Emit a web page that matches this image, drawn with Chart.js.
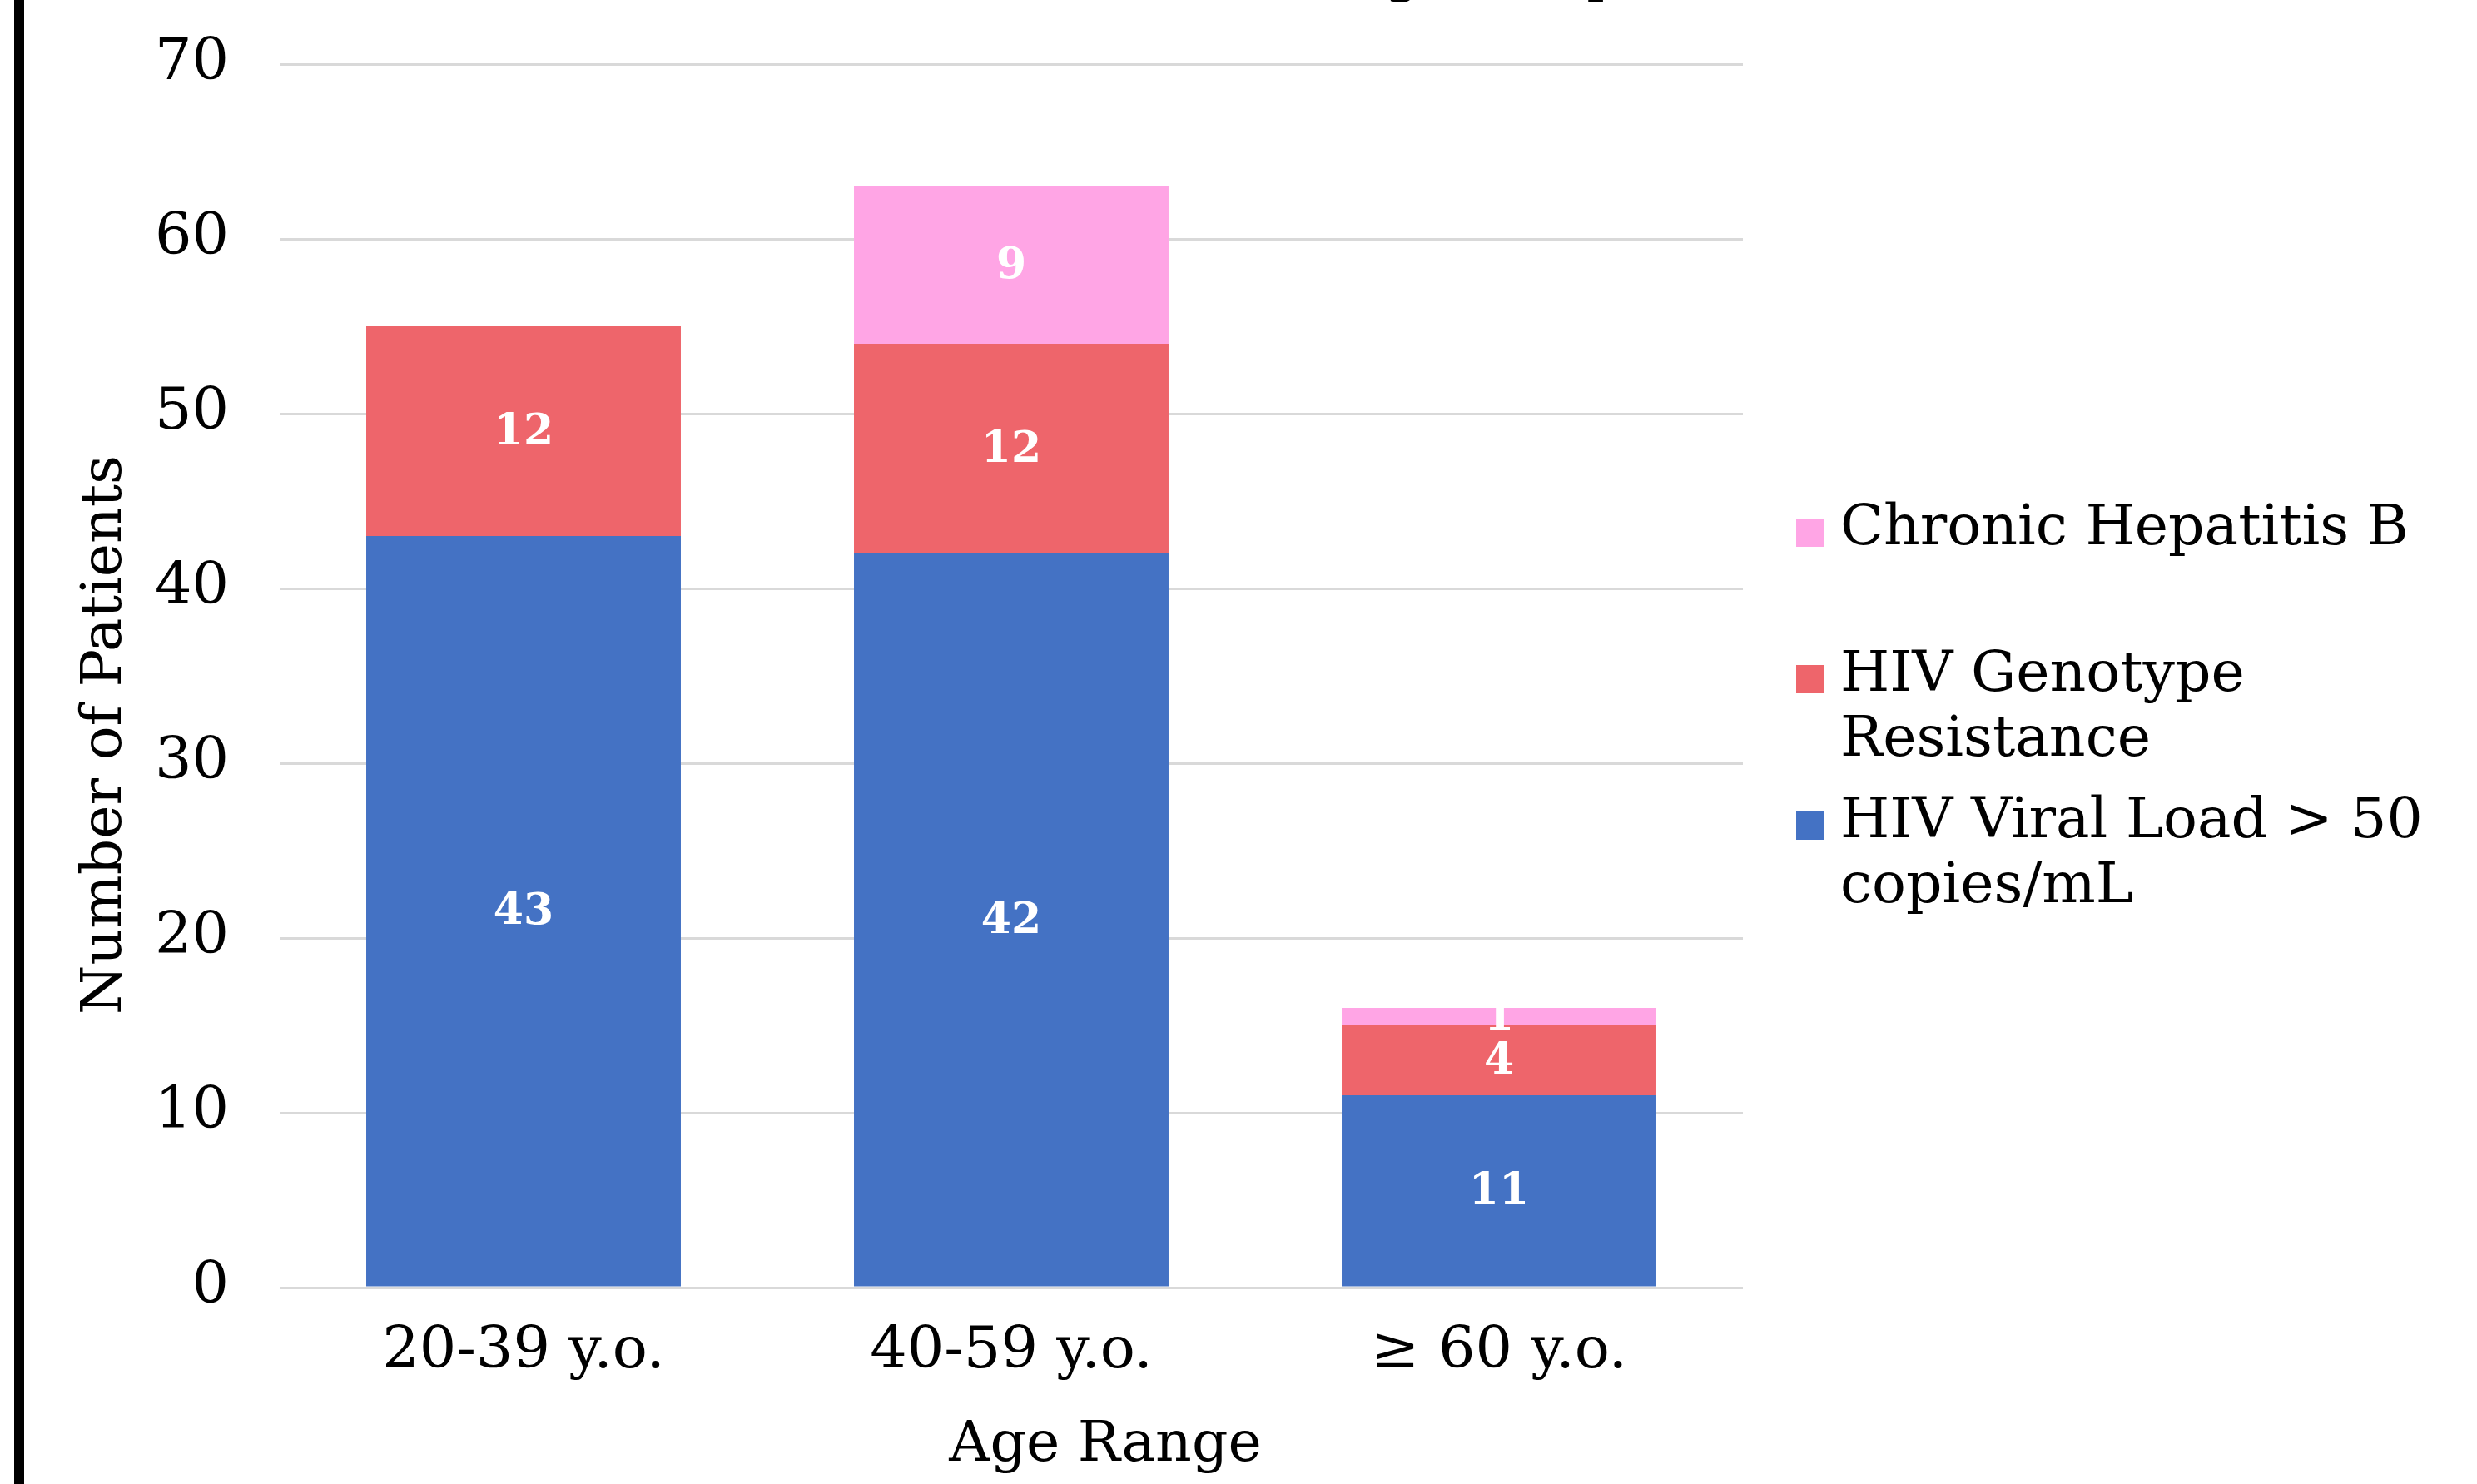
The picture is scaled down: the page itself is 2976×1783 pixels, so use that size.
<!DOCTYPE html>
<html>
<head>
<meta charset="utf-8">
<script src="https://cdn.jsdelivr.net/npm/chart.js@4.4.1/dist/chart.umd.min.js"></script>
<style>
	html, body { margin: 0; padding: 0; background: #fff; }
	canvas { display: block; }
</style>
</head>
<body>
<canvas id="age-chart" width="2976" height="1783"></canvas>
<script>
const ageRanges = ["20-39 y.o.", "40-59 y.o.", "\u2265 60 y.o."];
const viralLoad = [43, 42, 11];
const genotypeResistance = [12, 12, 4];
const hepatitisB = [0, 9, 1];
const seriesNames = [
	"HIV Viral Load > 50\ncopies/mL",
	"HIV Genotype\nResistance",
	"Chronic Hepatitis B"
];
const seriesColors = ["#4472C4", "#EE656B", "#FFA5E5"];
const yTicks = [0, 10, 20, 30, 40, 50, 60, 70];

const serif = "'DejaVu Serif', 'Liberation Serif', serif";

// page frame, cut-off title and the left rule
const framePlugin = {
	id: "frame",
	beforeDraw(chart) {
		const ctx = chart.ctx;
		ctx.save();
		ctx.fillStyle = "#fff";
		ctx.fillRect(0, 0, chart.width, chart.height);
		ctx.fillStyle = "#000";
		ctx.fillRect(17, 0, 12, chart.height);
		// title sits mostly above the picture, only descenders show
		ctx.font = "bold 54px " + serif;
		ctx.textBaseline = "alphabetic";
		ctx.textAlign = "left";
		const t = "Age Groups";
		const x0 = 1685 - ctx.measureText("A").width - ctx.measureText("g").width / 2;
		ctx.fillText(t, x0, -9);
		ctx.restore();
	},
	afterDraw(chart) {
		const ctx = chart.ctx;
		ctx.save();
		ctx.fillStyle = "#000";
		ctx.font = "68px " + serif;
		ctx.textAlign = "center";
		ctx.textBaseline = "middle";
		// y title
		ctx.save();
		ctx.translate(127, 883);
		ctx.rotate(-Math.PI / 2);
		ctx.fillText("Number of Patients", 0, 0);
		ctx.restore();
		// x title
		ctx.fillText("Age Range", 1328, 1737);

		// legend, reversed order
		const sets = chart.data.datasets.slice().reverse();
		let y = 636;
		ctx.textAlign = "left";
		sets.forEach(ds => {
			const lines = ds.label.split("\n");
			ctx.fillStyle = ds.backgroundColor;
			ctx.fillRect(2158, y - 17 + 4, 34, 34);
			ctx.fillStyle = "#000";
			lines.forEach((ln, i) => {
				ctx.fillText(ln, 2211, y + i * 78);
			});
			y += 176;
		});
		ctx.restore();
	},
	afterDatasetsDraw(chart) {
		const ctx = chart.ctx;
		ctx.save();
		ctx.fillStyle = "#fff";
		ctx.font = "bold 52px " + serif;
		ctx.textAlign = "center";
		ctx.textBaseline = "middle";
		chart.data.datasets.forEach((ds, i) => {
			const meta = chart.getDatasetMeta(i);
			meta.data.forEach((bar, j) => {
				const v = ds.data[j];
				if (!v) return;
				ctx.fillText(String(v), bar.x, (bar.y + bar.base) / 2 + 2);
			});
		});
		ctx.restore();
	}
};

const ctx = document.getElementById("age-chart").getContext("2d");
const ageChart = new Chart(ctx, {
	type: "bar",
	data: {
		labels: ageRanges,
		datasets: [
			{ label: seriesNames[0], data: viralLoad, backgroundColor: seriesColors[0] },
			{ label: seriesNames[1], data: genotypeResistance, backgroundColor: seriesColors[1] },
			{ label: seriesNames[2], data: hepatitisB, backgroundColor: seriesColors[2] }
		]
	},
	options: {
		responsive: false,
		animation: false,
		devicePixelRatio: 1,
		categoryPercentage: 1,
		barPercentage: 0.645,
		layout: {
			padding: { top: 77, right: 882, bottom: 0, left: 0 }
		},
		plugins: {
			legend: { display: false },
			tooltip: { enabled: false }
		},
		scales: {
			x: {
				stacked: true,
				grid: { display: false, drawTicks: false },
				border: { display: false },
				ticks: {
					color: "#000",
					font: { family: serif, size: 70 },
					padding: 36,
					maxRotation: 0
				},
				afterFit(scale) {
					scale.height = 236;
					scale.paddingLeft = 0;
					scale.paddingRight = 0;
				}
			},
			y: {
				stacked: true,
				min: 0,
				max: 70,
				afterBuildTicks(scale) {
					scale.ticks = yTicks.map(v => ({ value: v }));
				},
				grid: { color: "#d9d9d9", lineWidth: 3, drawTicks: false },
				border: { display: false },
				ticks: {
					color: "#000",
					font: { family: serif, size: 70 },
					padding: 61
				},
				afterFit(scale) {
					scale.width = 336;
					scale.paddingTop = 0;
					scale.paddingBottom = 0;
				}
			}
		}
	},
	plugins: [framePlugin]
});
</script>
</body>
</html>
